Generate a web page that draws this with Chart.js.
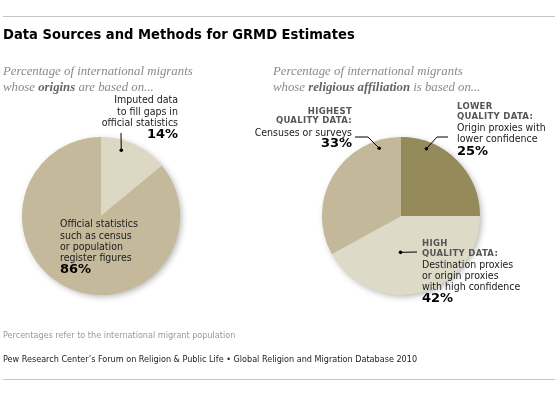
<!DOCTYPE html>
<html>
<head>
<meta charset="utf-8">
<script src="https://cdn.jsdelivr.net/npm/chart.js@4.4.1/dist/chart.umd.min.js"></script>
<style>
  body { margin: 0; background: #fff; }
  #wrap { position: relative; width: 560px; height: 393px; overflow: hidden; font-family: "DejaVu Sans Condensed", "DejaVu Sans", sans-serif; color: #1a1a1a; }
  .rule { position: absolute; left: 3px; width: 552px; height: 1px; background: #c4c4c4; }
  canvas { position: absolute; left: 0; top: 0; }
  .t { position: absolute; white-space: nowrap; font-size: 10.5px; line-height: 12px; }
  .title { font-weight: bold; font-size: 14.6px; color: #000; line-height: 18px; }
  .sub { font-family: "Liberation Serif", serif; font-style: italic; font-size: 12.8px; color: #8a8a8a; line-height: 16px; }
  .sub b { color: #666; }
  .cap { font-family: "DejaVu Sans", sans-serif; font-weight: bold; font-size: 8.5px; color: #555; letter-spacing: 0.3px; line-height: 10px; }
  .pct { font-family: "DejaVu Sans", sans-serif; font-weight: bold; font-size: 13px; color: #000; line-height: 14px; }
  .note { font-size: 9px; color: #999; }
  .src { font-size: 9px; color: #222; }
</style>
</head>
<body>
<div id="wrap">
  <div class="rule" style="top:16px"></div>
  <div class="rule" style="top:379px"></div>
  <canvas id="origins-chart" width="560" height="393"></canvas>
  <canvas id="religion-chart" width="560" height="393"></canvas>
</div>
<script>
const originLabels = [
    ['Imputed data', 'to fill gaps in', 'official statistics'],
    ['Official statistics', 'such as census', 'or population', 'register figures'],
];
const originShares = [14, 86];
const originColors = ['#dcd8c4', '#c4b99b'];

const religionHeads = [
    ['LOWER', 'QUALITY DATA:'],
    ['HIGH', 'QUALITY DATA:'],
    ['HIGHEST', 'QUALITY DATA:'],
];
const religionLabels = [
    ['Origin proxies with', 'lower confidence'],
    ['Destination proxies', 'or origin proxies', 'with high confidence'],
    ['Censuses or surveys'],
];
const religionShares = [25, 42, 33];
const religionColors = ['#958a59', '#dedac8', '#c3b89a'];

const wrap = document.getElementById('wrap');

// one line of text, vertically centred on y
const place = (html, x, y, cls, align = 'left') => {
    const el = document.createElement('div');
    el.className = 't ' + cls;
    el.innerHTML = html;
    if (align === 'right') {
        el.style.right = (560 - x) + 'px';
    } else {
        el.style.left = x + 'px';
    }
    wrap.appendChild(el);
    el.style.top = (y - el.offsetHeight / 2) + 'px';
};

const placeBlock = (heads, lines, share, x, ys, align) => {
    let i = 0;
    heads.forEach((h) => place(h, x, ys[i++], 'cap', align));
    lines.forEach((l) => place(l, x, ys[i++], '', align));
    place(share + '%', x, ys[i], 'pct', align);
};

place('Data Sources and Methods for GRMD Estimates', 3, 34, 'title');
place('Percentage of international migrants', 3, 71, 'sub');
place('whose <b>origins</b> are based on...', 3, 87, 'sub');
place('Percentage of international migrants', 273, 71, 'sub');
place('whose <b>religious affiliation</b> is based on...', 273, 87, 'sub');

placeBlock([], originLabels[0], originShares[0], 178, [99, 111, 122, 134], 'right');
placeBlock([], originLabels[1], originShares[1], 60, [223, 235, 246, 257, 269], 'left');

placeBlock(religionHeads[0], religionLabels[0], religionShares[0], 457, [106, 116, 127, 138, 151], 'left');
placeBlock(religionHeads[1], religionLabels[1], religionShares[1], 422, [243, 253, 264, 275, 286, 298], 'left');
placeBlock(religionHeads[2], religionLabels[2], religionShares[2], 352, [111, 120, 132, 143], 'right');

place('Percentages refer to the international migrant population', 3, 335, 'note');
place('Pew Research Center\u2019s Forum on Religion &amp; Public Life \u2022 Global Religion and Migration Database 2010', 3, 359, 'src');

// soft shadow under the whole pie
const pieShadow = {
    id: 'pieShadow',
    beforeDatasetsDraw(chart) {
        const arc = chart.getDatasetMeta(0).data[0];
        if (!arc) {
            return;
        }
        const ctx = chart.ctx;
        ctx.save();
        ctx.shadowColor = 'rgba(0, 0, 0, 0.3)';
        ctx.shadowBlur = 6;
        ctx.shadowOffsetX = 2;
        ctx.shadowOffsetY = 2;
        ctx.fillStyle = '#c4b99b';
        ctx.beginPath();
        ctx.arc(arc.x, arc.y, arc.outerRadius - 0.5, 0, Math.PI * 2);
        ctx.fill();
        ctx.restore();
    },
};

// leader lines: a dot inside the slice, then a line out to the label
const callouts = {
    id: 'callouts',
    afterDatasetsDraw(chart, args, opts) {
        const ctx = chart.ctx;
        const arcs = chart.getDatasetMeta(0).data;
        (opts.items || []).forEach((item) => {
            const arc = arcs[item.index];
            const a = arc.startAngle + item.t * (arc.endAngle - arc.startAngle);
            const r = arc.outerRadius * item.k;
            const x = arc.x + Math.cos(a) * r;
            const y = arc.y + Math.sin(a) * r;
            ctx.save();
            ctx.strokeStyle = '#000';
            ctx.fillStyle = '#000';
            ctx.lineWidth = 1;
            ctx.beginPath();
            ctx.moveTo(x, y);
            item.path.forEach(([px, py]) => ctx.lineTo(px, py));
            ctx.stroke();
            ctx.beginPath();
            ctx.arc(x, y, 1.8, 0, Math.PI * 2);
            ctx.fill();
            ctx.restore();
        });
    },
};

const pieOptions = (padding, items) => ({
    responsive: false,
    animation: false,
    events: [],
    layout: { padding },
    plugins: {
        legend: { display: false },
        tooltip: { enabled: false },
        callouts: { items },
    },
});

new Chart(document.getElementById('origins-chart'), {
    type: 'pie',
    data: {
        labels: originLabels.map((l) => l.join(' ')),
        datasets: [{
            data: originShares,
            backgroundColor: originColors,
            borderWidth: 0,
        }],
    },
    options: pieOptions({ left: 22, right: 380, top: 137, bottom: 98 }, [
        { index: 0, t: 0.34, k: 0.87, path: [[121, 133]] },
    ]),
    plugins: [pieShadow, callouts],
});

new Chart(document.getElementById('religion-chart'), {
    type: 'pie',
    data: {
        labels: religionLabels.map((l, i) => religionHeads[i].join(' ') + ' ' + l.join(' ')),
        datasets: [{
            data: religionShares,
            backgroundColor: religionColors,
            borderWidth: 0,
        }],
    },
    options: pieOptions({ left: 322, right: 80, top: 137, bottom: 98 }, [
        { index: 0, t: 0.23, k: 0.91, path: [[437, 137], [448, 137]] },
        { index: 1, t: 0.6, k: 0.46, path: [[417, 252]] },
        { index: 2, t: 0.85, k: 0.9, path: [[368, 137], [355, 137]] },
    ]),
    plugins: [pieShadow, callouts],
});
</script>
</body>
</html>
